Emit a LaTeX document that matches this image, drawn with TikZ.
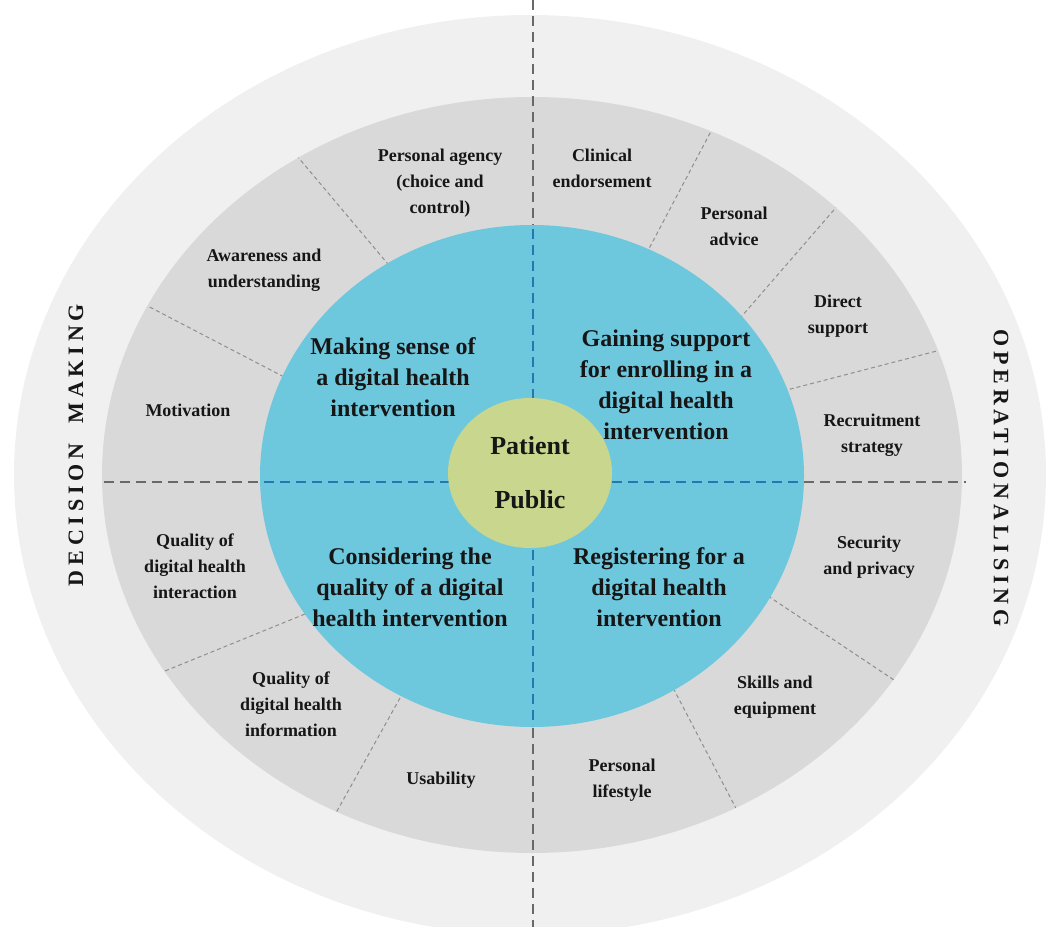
\documentclass[tikz,border=0pt]{standalone}
\usepackage{fontspec}
\setmainfont{Liberation Serif}
\usepackage{xcolor}
\usepackage{tikz}

\definecolor{outerring}{RGB}{240,240,240}
\definecolor{factorring}{RGB}{217,217,217}
\definecolor{stageblue}{RGB}{110,200,221}
\definecolor{coregreen}{RGB}{201,215,142}
\definecolor{dashgray}{RGB}{105,105,105}
\definecolor{dashblue}{RGB}{38,118,178}
\definecolor{labeltext}{RGB}{22,22,22}

\tikzset{
	factor/.style={align=center, text=labeltext, font=\bfseries\fontsize{9}{13}\selectfont},
	stage/.style={align=center, text=labeltext, font=\bfseries\fontsize{12}{15.5}\selectfont},
	core/.style={text=labeltext, font=\bfseries\fontsize{13}{15}\selectfont},
	sidelabel/.style={text=labeltext, font=\bfseries\fontsize{11}{13}\selectfont\addfontfeature{LetterSpace=22}},
	divider/.style={dashgray!75, line width=0.5pt, dash pattern=on 2pt off 1.5pt},
	axisgray/.style={dashgray, line width=1pt, dash pattern=on 5pt off 3pt},
	axisblue/.style={dashblue, line width=1pt, dash pattern=on 5pt off 3pt},
}

\begin{document}
\begin{tikzpicture}[x=0.5pt,y=-0.5pt]
	\useasboundingbox (0,0) rectangle (1051,927);
	\coordinate (c) at (530,475);
	
	\fill[outerring] (c) ellipse [x radius=516, y radius=460];
	\fill[factorring] (532,475) ellipse [x radius=430, y radius=378];
	
	% dividers between the factors
	\begin{scope}
		\clip (532,475) ellipse [x radius=430, y radius=378];
		\draw[divider] (398,276) -- (292,150);
		\draw[divider] (290,380) -- (140,302);
		\draw[divider] (643,260) -- (718,118);
		\draw[divider] (735,324) -- (846,196);
		\draw[divider] (783,391) -- (956,346);
		\draw[divider] (305,614) -- (160,673);
		\draw[divider] (400,698) -- (332,820);
		\draw[divider] (670,682) -- (740,816);
		\draw[divider] (768,596) -- (900,684);
	\end{scope}
	
	\fill[stageblue] (532,476) ellipse [x radius=272, y radius=251];
	
	% axes
	\draw[axisgray] (533,0) -- (533,225);
	\draw[axisgray] (533,728) -- (533,927);
	\draw[axisgray] (104,482) -- (260,482);
	\draw[axisgray] (804,482) -- (966,482);
	\draw[axisblue] (533,229) -- (533,400);
	\draw[axisblue] (533,550) -- (533,726);
	\draw[axisblue] (264,482) -- (450,482);
	\draw[axisblue] (612,482) -- (802,482);
	
	\fill[coregreen] (530,473) ellipse [x radius=82, y radius=75];
	
	\node[core] (patient) at (530,446) {Patient};
	\node[core] (public) at (530,500) {Public};
	
	\node[stage] (sense) at (393,377) {Making sense of\\a digital health\\intervention};
	\node[stage] (gaining) at (666,385) {Gaining support\\for enrolling in a\\digital health\\intervention};
	\node[stage] (quality) at (410,587) {Considering the\\quality of a digital\\health intervention};
	\node[stage] (register) at (659,587) {Registering for a\\digital health\\intervention};
	
	\node[factor] (agency) at (440,183) {Personal agency\\(choice and\\control)};
	\node[factor] (awareness) at (264,270) {Awareness and\\understanding};
	\node[factor] (motivation) at (188,410) {Motivation};
	\node[factor] (interaction) at (195,566) {Quality of\\digital health\\interaction};
	\node[factor] (information) at (291,704) {Quality of\\digital health\\information};
	\node[factor] (usability) at (441,780) {Usability};
	\node[factor] (clinical) at (602,168) {Clinical\\endorsement};
	\node[factor] (advice) at (734,226) {Personal\\advice};
	\node[factor] (support) at (838,316) {Direct\\support};
	\node[factor] (recruit) at (872,435) {Recruitment\\strategy};
	\node[factor] (security) at (869,557) {Security\\and privacy};
	\node[factor] (skills) at (775,697) {Skills and\\equipment};
	\node[factor] (lifestyle) at (622,780) {Personal\\lifestyle};
	
	\node[sidelabel, rotate=90] (decision) at (76,445) {DECISION\hspace{0.9em}MAKING};
	\node[sidelabel, rotate=-90] (operational) at (1001,478) {OPERATIONALISING};
\end{tikzpicture}
\end{document}
